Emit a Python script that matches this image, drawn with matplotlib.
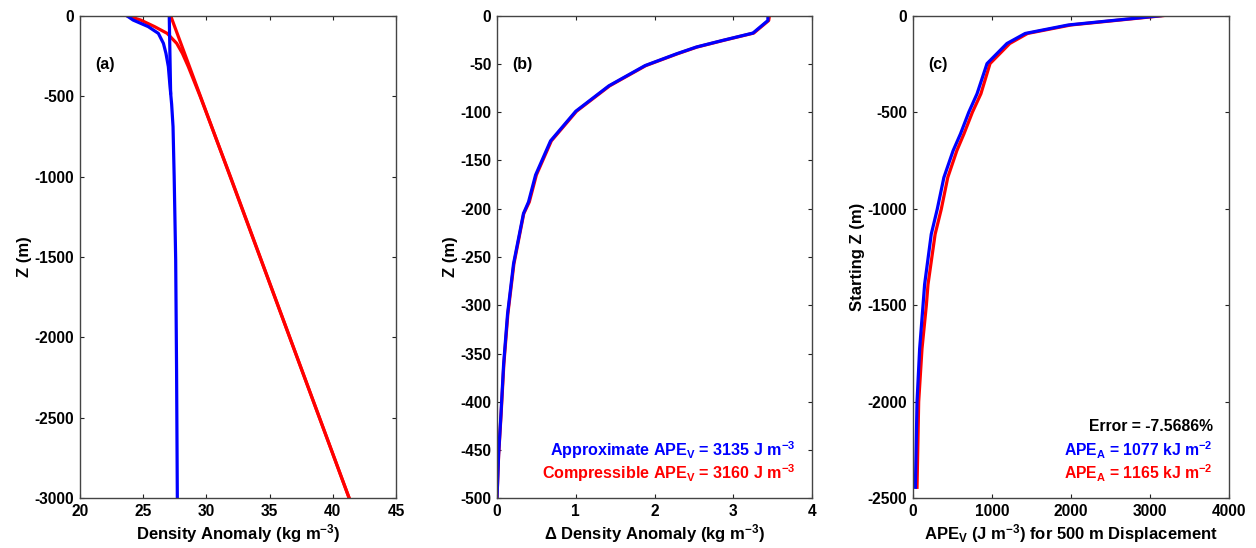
import numpy as np
import matplotlib
matplotlib.use("Agg")
import matplotlib.pyplot as plt

plt.rcParams['font.family'] = ['Liberation Sans', 'DejaVu Sans']
plt.rcParams['font.weight'] = 'bold'
plt.rcParams['axes.unicode_minus'] = False
plt.rcParams['mathtext.fontset'] = 'custom'
plt.rcParams['mathtext.rm'] = 'Liberation Sans:bold'
plt.rcParams['mathtext.bf'] = 'Liberation Sans:bold'
plt.rcParams['mathtext.it'] = 'Liberation Sans:bold'

# (a) perfiles de densidad
za_blue = [0, -27, -68, -110, -172, -234, -317, -420, -550, -690, -1000, -1518, -2200, -3000]
rho_blue = [23.7, 24.2, 25.4, 26.2, 26.6, 26.8, 26.99, 27.1, 27.25, 27.36, 27.45, 27.57, 27.64, 27.70]
za_blue_ref = [0, -480]
rho_blue_ref = [27.06, 27.17]
za_red = [0, -27, -68, -110, -172, -234, -317, -500, -1000, -2000, -3000]
rho_red = [23.7, 24.8, 25.9, 26.9, 27.65, 28.1, 28.57, 29.5, 31.9, 36.6, 41.3]
za_red_ref = [0, -3000]
rho_red_ref = [27.17, 41.3]

# (b) delta densidad
zb = [0, -5, -18, -25.5, -32.5, -39.5, -51.7, -72.7, -99, -129.7, -165, -193,
      -205, -257, -309, -361, -413, -455, -500]
drho_blue = [3.44, 3.44, 3.25, 2.87, 2.53, 2.28, 1.88, 1.42, 1.0, 0.68, 0.49, 0.40,
             0.336, 0.21, 0.134, 0.084, 0.05, 0.02, 0.0]
drho_red = [3.46, 3.45, 3.26, 2.88, 2.54, 2.29, 1.89, 1.43, 1.01, 0.69, 0.50, 0.41,
            0.34, 0.215, 0.138, 0.087, 0.052, 0.021, 0.0]

# (c) APE por desplazamiento
zc = [0, -48, -92, -144, -248, -404, -500, -612, -699, -838, -1002, -1132, -1392,
      -1500, -1725, -2000, -2443]
ape_blue = [3135, 1966, 1420, 1189, 937, 811, 706, 601, 508, 391, 307, 231, 147,
            127, 84, 51, 30]
ape_red = [3160, 2000, 1450, 1225, 975, 860, 752, 645, 555, 440, 358, 280, 190,
           169, 114, 72, 51]

W, H = 1256, 548
fig = plt.figure(figsize=(W / 100, H / 100), dpi=100)

def make_axes(x0, x1):
    top, bot = 15.7, 498.3
    return fig.add_axes([x0 / W, 1 - bot / H, (x1 - x0) / W, (bot - top) / H])

ax1 = make_axes(80, 396)
ax2 = make_axes(497, 812)
ax3 = make_axes(913, 1229)

for ax in (ax1, ax2, ax3):
    ax.tick_params(direction='in', top=True, right=True, length=3, width=0.8,
                   labelsize=11.2, colors='#222222', labelcolor='black', pad=4)
    for s in ax.spines.values():
        s.set_color('#444444')
        s.set_linewidth(1.0)

lw = 2.3
fs_lab = 12
ax1.plot(rho_red_ref, za_red_ref, color='red', lw=lw)
ax1.plot(rho_red, za_red, color='red', lw=lw)
ax1.plot(rho_blue_ref, za_blue_ref, color='blue', lw=lw)
ax1.plot(rho_blue, za_blue, color='blue', lw=lw)
ax1.set_xlim(20, 45)
ax1.set_ylim(-3000, 0)
ax1.set_xticks(np.arange(20, 46, 5))
ax1.set_yticks(np.arange(-3000, 1, 500))
ax1.set_xlabel('Density Anomaly (kg m$^{-3}$)', fontsize=fs_lab, fontweight='bold', labelpad=2)
ax1.set_ylabel('Z (m)', fontsize=fs_lab, fontweight='bold', labelpad=2)
ax1.text(0.047, 0.898, '(a)', transform=ax1.transAxes, fontsize=11.5, fontweight='bold', va='center')

ax2.plot(drho_red, zb, color='red', lw=lw)
ax2.plot(drho_blue, zb, color='blue', lw=lw)
ax2.set_xlim(0, 4)
ax2.set_ylim(-500, 0)
ax2.set_xticks(np.arange(0, 5, 1))
ax2.set_yticks(np.arange(-500, 1, 50))
ax2.set_xlabel('\u0394 Density Anomaly (kg m$^{-3}$)', fontsize=fs_lab, fontweight='bold', labelpad=2)
ax2.set_ylabel('Z (m)', fontsize=fs_lab, fontweight='bold', labelpad=2)
ax2.text(0.048, 0.898, '(b)', transform=ax2.transAxes, fontsize=11.5, fontweight='bold', va='center')
ax2.text(0.947, 0.099, 'Approximate APE$_\\mathrm{V}$ = 3135 J m$^{-3}$', color='blue',
         transform=ax2.transAxes, fontsize=11.6, fontweight='bold', ha='right', va='center')
ax2.text(0.947, 0.053, 'Compressible APE$_\\mathrm{V}$ = 3160 J m$^{-3}$', color='red',
         transform=ax2.transAxes, fontsize=11.6, fontweight='bold', ha='right', va='center')

ax3.plot(ape_red, zc, color='red', lw=lw)
ax3.plot(ape_blue, zc, color='blue', lw=lw)
ax3.set_xlim(0, 4000)
ax3.set_ylim(-2500, 0)
ax3.set_xticks(np.arange(0, 4001, 1000))
ax3.set_yticks(np.arange(-2500, 1, 500))
ax3.set_xlabel('APE$_\\mathrm{V}$ (J m$^{-3}$) for 500 m Displacement', fontsize=fs_lab, fontweight='bold', labelpad=2)
ax3.set_ylabel('Starting Z (m)', fontsize=fs_lab, fontweight='bold', labelpad=2)
ax3.text(0.047, 0.898, '(c)', transform=ax3.transAxes, fontsize=11.5, fontweight='bold', va='center')
ax3.text(0.949, 0.148, 'Error = -7.5686%', color='black',
         transform=ax3.transAxes, fontsize=11.3, fontweight='bold', ha='right', va='center')
ax3.text(0.949, 0.100, 'APE$_\\mathrm{A}$ = 1077 kJ m$^{-2}$', color='blue',
         transform=ax3.transAxes, fontsize=11.3, fontweight='bold', ha='right', va='center')
ax3.text(0.949, 0.052, 'APE$_\\mathrm{A}$ = 1165 kJ m$^{-2}$', color='red',
         transform=ax3.transAxes, fontsize=11.3, fontweight='bold', ha='right', va='center')

fig.savefig('out.png', dpi=100)
